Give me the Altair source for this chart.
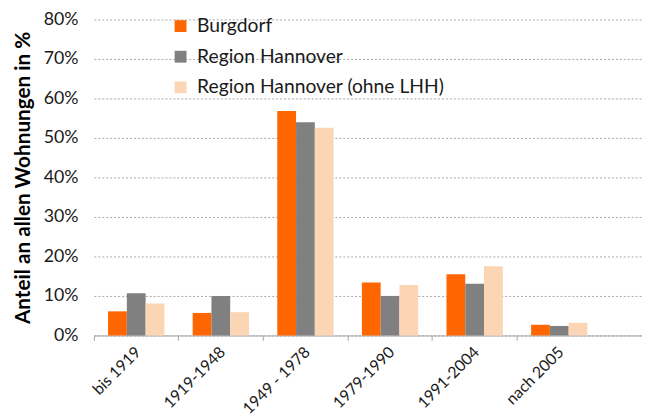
import altair as alt
import pandas as pd

categories = ["bis 1919", "1919-1948", "1949 - 1978", "1979-1990", "1991-2004", "nach 2005"]
series = ["Burgdorf", "Region Hannover", "Region Hannover (ohne LHH)"]
burgdorf = [6.1, 5.7, 56.8, 13.4, 15.5, 2.7]
region_hannover = [10.7, 10.0, 54.0, 10.0, 13.1, 2.4]
region_ohne_lhh = [8.1, 5.9, 52.6, 12.8, 17.5, 3.2]
colors = ["#FF6600", "#808080", "#FCD5B5"]
y_ticks = [0, 0.1, 0.2, 0.3, 0.4, 0.5, 0.6, 0.7, 0.8]

rows = []
for name, vals in zip(series, [burgdorf, region_hannover, region_ohne_lhh]):
    for c, v in zip(categories, vals):
        rows.append({"Zeitraum": c, "Serie": name, "Anteil": v / 100})
df = pd.DataFrame(rows)

FONT = "Lato"
W = 555
H = 320
# band step ~85.7 px; remaining room goes to the right end (align=0)
P_OUT = 0.239

bars = alt.Chart(df).mark_bar().encode(
    x=alt.X("Zeitraum:N", sort=categories,
            scale=alt.Scale(domain=categories, paddingInner=0, paddingOuter=P_OUT, align=0),
            axis=alt.Axis(title=None, bandPosition=0, labelAngle=-45, labelOffset=2,
                          labelAlign="right", labelBaseline="middle", labelFontSize=16,
                          labelColor="#1a1a1a", labelFont=FONT, labelPadding=9, tickSize=5,
                          tickColor="#A6A6A6", domainColor="#A6A6A6", grid=False,
                          labelOverlap=False, labelLimit=200)),
    xOffset=alt.XOffset("Serie:N", sort=series,
                        scale=alt.Scale(domain=series, paddingInner=0, paddingOuter=0.754)),
    y=alt.Y("Anteil:Q", scale=alt.Scale(domain=[0, 0.8], nice=False),
            axis=alt.Axis(values=y_ticks, format=".0%", title="Anteil an allen Wohnungen in %",
                          titleFontSize=21, titleFontWeight="bold", titleFont=FONT, titleColor="#000000",
                          labelFontSize=18, labelFont=FONT, labelColor="#1a1a1a", labelPadding=16,
                          labelOverlap=False, domain=False, ticks=False, grid=True, gridDash=[2, 2],
                          gridColor="#A6A6A6", titlePadding=10)),
    color=alt.Color("Serie:N", sort=series, scale=alt.Scale(domain=series, range=colors),
                    legend=alt.Legend(title=None, orient="none", legendX=78, legendY=-3,
                                      symbolType="square", symbolSize=144, symbolStrokeWidth=0,
                                      labelFontSize=19.5, labelFont=FONT, labelColor="#1a1a1a",
                                      rowPadding=10, labelOffset=7, labelLimit=400)),
)

chart = bars.properties(
    width=W, height=H,
    autosize=alt.AutoSizeParams(type="none"),
    padding={"left": 87, "top": 9, "right": 0, "bottom": 80},
).configure_view(stroke=None)

chart.save("out.html", embed_options={"renderer": "svg", "actions": False})
